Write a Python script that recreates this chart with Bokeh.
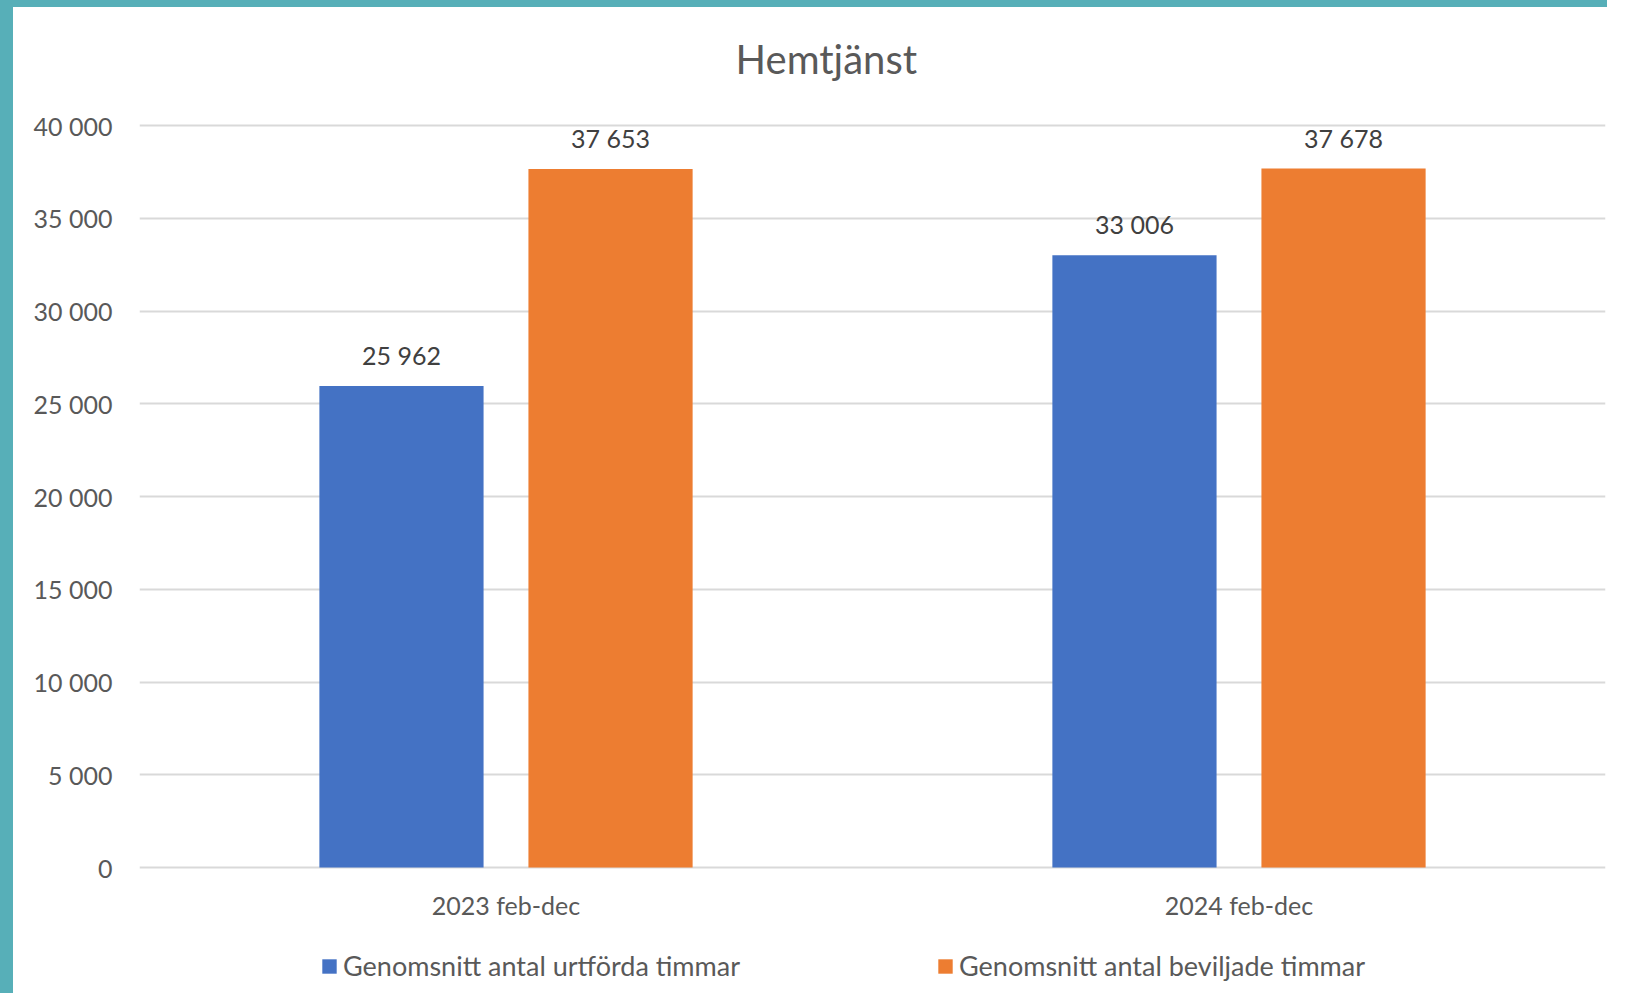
from bokeh.plotting import figure
from bokeh.models import (ColumnDataSource, FactorRange, Range1d, FixedTicker,
                          CustomJSTickFormatter, Legend, LegendItem, Label)
from bokeh.transform import dodge
from bokeh.core.properties import value
from bokeh.embed import file_html
from bokeh.resources import INLINE

title = "Hemtjänst"
categories = ["2023 feb-dec", "2024 feb-dec"]
series_names = ["Genomsnitt antal urtförda timmar", "Genomsnitt antal beviljade timmar"]
utforda = [25962, 33006]
beviljade = [37653, 37678]
y_ticks = [0, 5000, 10000, 15000, 20000, 25000, 30000, 35000, 40000]

colors = ["#4472C4", "#ED7D31"]
FONT = "Lato"
TXT = "#595959"
TEAL = "#57AFB8"

def fmt(v):
    return f"{v:,}".replace(",", " ")

src = ColumnDataSource(dict(
    cat=categories,
    zero=[0] * len(categories),
    s1=utforda, s2=beviljade,
    l1=[fmt(v) for v in utforda], l2=[fmt(v) for v in beviljade],
))

# page layout (px): frame top 20, 40000 gridline at 125, 0 line at 867, frame bottom 995
px_per_unit = 742 / 40000
y_top = 40000 + (125 - 20) / px_per_unit
y_bottom = -(995 - 867) / px_per_unit

p = figure(x_range=FactorRange(*categories, range_padding=0),
           y_range=Range1d(y_bottom, y_top),
           width=1607, height=993, output_backend="svg", toolbar_location=None,
           min_border_left=126, min_border_right=15, min_border_top=13,
           min_border_bottom=5)
p.styles = {"border-left": f"13px solid {TEAL}", "border-top": f"7px solid {TEAL}"}
p.outline_line_color = None
p.background_fill_color = "white"
p.border_fill_color = "white"

off = 0.1426
bw = 0.224
r1 = p.vbar(x=dodge("cat", -off, range=p.x_range), top="s1", width=bw, source=src,
            fill_color=colors[0], line_color=None)
r2 = p.vbar(x=dodge("cat", off, range=p.x_range), top="s2", width=bw, source=src,
            fill_color=colors[1], line_color=None)

for xcol, ycol, lcol in [(-off, "s1", "l1"), (off, "s2", "l2")]:
    p.text(x=dodge("cat", xcol, range=p.x_range), y=ycol, text=lcol, source=src,
           text_align="center", text_baseline="middle", y_offset=-31,
           text_font=value(FONT), text_font_size="25px", text_color="#404040")

# category labels below the zero line
p.text(x="cat", y="zero", text="cat", source=src, text_align="center",
       text_baseline="middle", y_offset=37, text_font=value(FONT),
       text_font_size="25px", text_color=TXT)

# axes
p.yaxis.ticker = FixedTicker(ticks=y_ticks)
p.yaxis.formatter = CustomJSTickFormatter(code="""
return tick.toFixed(0).replace(/\\B(?=(\\d{3})+(?!\\d))/g, ' ');
""")
p.yaxis.axis_line_color = None
p.yaxis.major_tick_line_color = None
p.yaxis.minor_tick_line_color = None
p.yaxis.major_tick_out = 0
p.yaxis.major_label_standoff = 27
p.yaxis.major_label_text_font = FONT
p.yaxis.major_label_text_font_size = "25px"
p.yaxis.major_label_text_color = TXT

p.xaxis.visible = False

p.xgrid.grid_line_color = None
p.ygrid.grid_line_color = "#D9D9D9"
p.ygrid.grid_line_width = 2
p.ygrid.ticker = FixedTicker(ticks=y_ticks)

# title (inside extended frame)
title_y = 40000 + (125 - 58) / px_per_unit
p.add_layout(Label(x=0.937, y=title_y, text=title, text_align="center",
                   text_baseline="middle", text_font=FONT, text_font_size="40px",
                   text_color=TXT))

legend = Legend(items=[LegendItem(label=series_names[0], renderers=[r1]),
                       LegendItem(label=series_names[1], renderers=[r2])],
                orientation="horizontal", location=(181, 13),
                padding=0, spacing=196, label_standoff=5,
                glyph_width=18, glyph_height=18, label_height=26,
                label_text_font=FONT, label_text_font_size="27px",
                label_text_color=TXT, border_line_color=None,
                background_fill_alpha=0)
p.add_layout(legend, "center")

open("out.html", "w").write(file_html(p, INLINE))
